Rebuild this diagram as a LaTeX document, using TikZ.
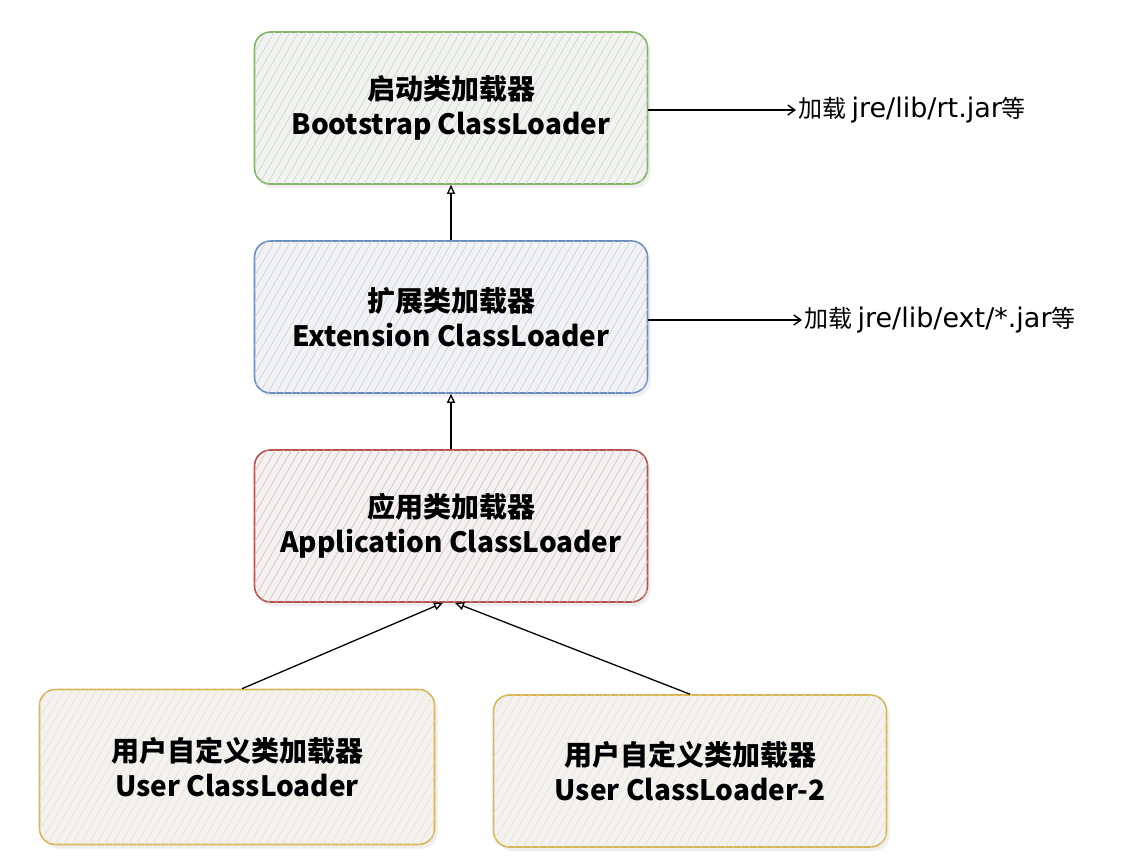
\documentclass[tikz,border=0pt]{standalone}
\usepackage{fontspec}
\setmainfont{Noto Sans CJK SC}
\newfontfamily\latfont{DejaVu Sans}
\usetikzlibrary{arrows.meta,patterns.meta,shadows}
\definecolor{gline}{HTML}{82B366}
\definecolor{bline}{HTML}{6C8EBF}
\definecolor{rline}{HTML}{B85450}
\definecolor{yline}{HTML}{D6B656}
\definecolor{boxbg}{HTML}{F2F2F2}
\begin{document}
\begin{tikzpicture}[x=1pt,y=-1pt,
  lbox/.style={rectangle, rounded corners=16pt, line width=1.6pt,
    minimum width=393pt, minimum height=152pt, align=center,
    font=\fontsize{28}{35}\selectfont\bfseries,
    fill=boxbg, drop shadow={opacity=0.12, shadow xshift=3pt, shadow yshift=-4pt},
    postaction={pattern={Lines[angle=60,distance=7pt,line width=0.8pt]}}},
  upar/.style={draw=black, line width=1.3pt, -{Triangle[open,length=9pt,width=8pt]}},
  sidear/.style={draw=black, line width=1.4pt, -{Straight Barb[length=7pt,width=10pt]}},
  lbl/.style={anchor=west, inner sep=2pt, font=\fontsize{24}{28}\selectfont},
  lattxt/.style={}]
\useasboundingbox (0,0) rectangle (1127,857);
\fill[white] (0,0) rectangle (1127,857);
\node[lbox, draw=gline, pattern color=gline!40] (boot) at (451,108) {启动类加载器\\Bootstrap ClassLoader};
\node[lbox, draw=bline, pattern color=bline!35] (ext) at (451,317) {扩展类加载器\\Extension ClassLoader};
\node[lbox, draw=rline, pattern color=rline!35] (app) at (451,526) {应用类加载器\\Application ClassLoader};
\node[lbox, draw=yline, pattern color=yline!35, minimum width=395pt, minimum height=155pt] (user) at (237,767) {用户自定义类加载器\\User ClassLoader};
\node[lbox, draw=yline, pattern color=yline!35] (user2) at (690,771) {用户自定义类加载器\\User ClassLoader-2};
\node[lbl] (bootl) at (796,110) {加载 {\latfont\fontsize{27}{28}\selectfont jre/lib/rt.jar}等};
\node[lbl] (extl) at (802,320) {加载 {\latfont\fontsize{27}{28}\selectfont jre/lib/ext/*.jar}等};
\draw[sidear] (boot.east |- bootl.west) -- (bootl.west);
\draw[sidear] (ext.east |- extl.west) -- (extl.west);
\draw[upar] (ext.north) -- (boot.south);
\draw[upar] (app.north) -- (ext.south);
\draw[upar] ([xshift=5pt]user.north) -- ([xshift=-8pt]app.south);
\draw[upar] (user2.north) -- ([xshift=4pt]app.south);
\end{tikzpicture}
\end{document}
